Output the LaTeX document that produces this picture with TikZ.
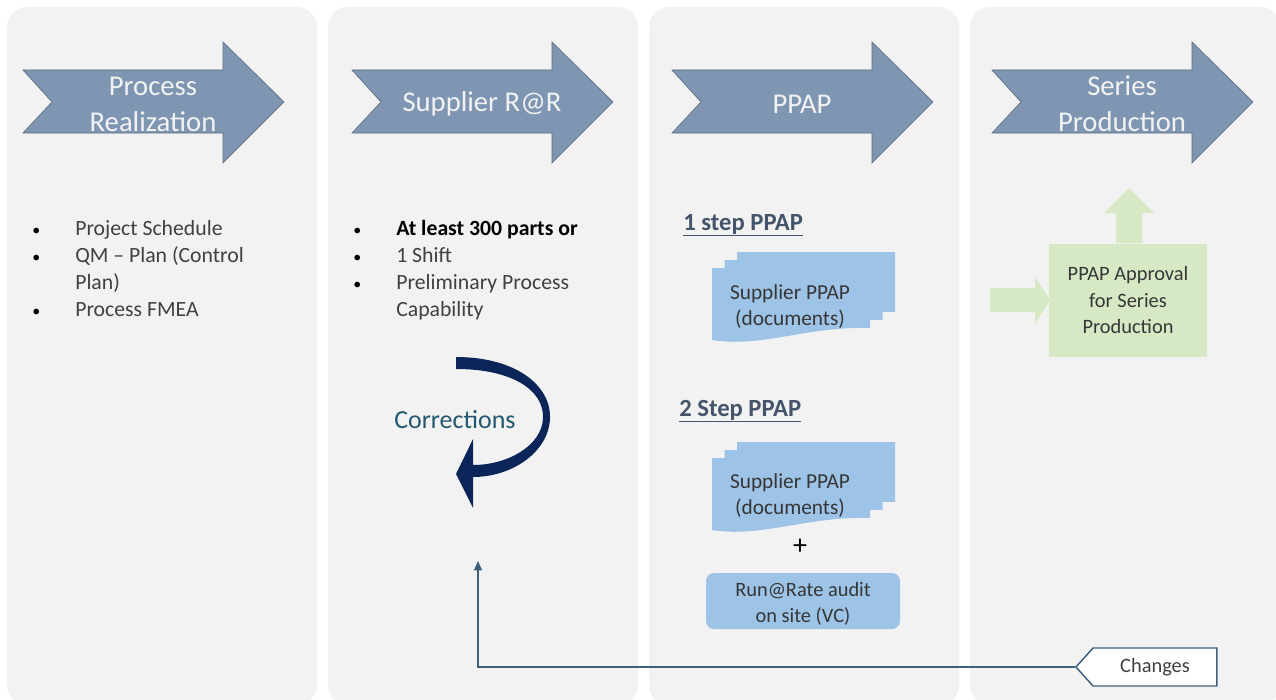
\documentclass[tikz,border=0pt]{standalone}
\usepackage{fontspec}
\setmainfont{Carlito}
\usetikzlibrary{arrows.meta,shapes.symbols}

\definecolor{lanebg}{HTML}{F2F2F2}
\definecolor{stagefill}{HTML}{7F96B2}
\definecolor{stageedge}{HTML}{5E6E82}
\definecolor{docblue}{HTML}{9DC3E6}
\definecolor{okgreen}{HTML}{D7E8C5}
\definecolor{navy}{HTML}{0B2559}
\definecolor{slate}{HTML}{44546A}
\definecolor{linkblue}{HTML}{3E5F7E}
\definecolor{txt}{HTML}{404040}
\definecolor{corrtext}{HTML}{245770}

\newcommand{\itemdot}{\textcolor{black}{\fontsize{12}{12}\selectfont •}}

\tikzset{
	stagelabel/.style={text=lanebg, font=\fontsize{21.5}{27}\selectfont, align=center, inner sep=0pt},
	bullets/.style={anchor=base west, inner sep=0pt, text=txt, font=\fontsize{16.3}{20.25}\selectfont},
	doctext/.style={text=txt!85!black, font=\fontsize{16}{19.5}\selectfont, align=center, inner sep=0pt},
	steptitle/.style={text=slate, font=\bfseries\fontsize{18.5}{22}\selectfont, anchor=base west, inner sep=0pt},
	boxtext/.style={text=txt!85!black, font=\fontsize{15.3}{19.8}\selectfont, align=center},
}

% stack of sheets, top left corner of the front sheet at (#1,#2)
\newcommand{\docsheet}[2]{%
	\foreach \d in {2,1,0}
		\fill[docblue] ({#1+12.5*\d},{#2-8*\d}) -- ++(158,0) -- ++(0,60)
			.. controls ({#1+12.5*\d+95},{#2-8*\d+58}) and ({#1+12.5*\d+50},{#2-8*\d+80})
			.. ({#1+12.5*\d},{#2-8*\d+72}) -- cycle;
}

\begin{document}
\begin{tikzpicture}[x=0.75pt, y=-0.75pt]

		\useasboundingbox (0,0) rectangle (1276,699);
		\fill[white] (0,0) rectangle (1276,699);

		% lanes
		\begin{scope}
			\clip (0,0) rectangle (1276,699);
			\foreach \i in {0,...,3}
				\fill[lanebg, rounded corners=15pt] ({7+321*\i},7) rectangle ({317+321*\i},705);
		\end{scope}

		% stage arrows
		\foreach \x/\name/\lbl in {23/proc/{Process\\Realization}, 352/rar/{Supplier R@R},
				672/ppap/{PPAP}, 992/series/{Series\\Production}}
		{
			\filldraw[fill=stagefill, draw=stageedge, line width=0.5pt]
				(\x,70) -- ++(200,0) -- ++(0,-28) -- ++(61,60) -- ++(-61,61)
				-- ++(0,-30) -- ++(-200,0) -- ++(29,-31) -- cycle;
			\node[stagelabel] (\name) at ({\x+130},104) {\lbl};
		}

		% bullet lists
		\node[bullets] (plan-list) at (32,235) {%
			\begin{tabular}[t]{@{}p{32.25pt}@{}l@{}}
				\itemdot & Project Schedule \\
				\itemdot & QM – Plan (Control \\
				         & Plan) \\
				\itemdot & Process FMEA
			\end{tabular}};
		\node[bullets] (rar-list) at (353,235) {%
			\begin{tabular}[t]{@{}p{32.25pt}@{}l@{}}
				\itemdot & \textcolor{black}{\bfseries At least 300 parts or} \\
				\itemdot & 1 Shift \\
				\itemdot & Preliminary Process \\
				         & Capability
			\end{tabular}};

		% corrections loop
		\fill[navy] (456,357) .. controls (515,357) and (551,385) .. (550,418)
			.. controls (549,452) and (512,477) .. (473,477)
			-- (473,508) -- (456,474) -- (473,439) -- (473,465)
			.. controls (507,465) and (542,446) .. (543,418)
			.. controls (544,390) and (512,369) .. (456,369) -- cycle;
		\node[text=corrtext, font=\fontsize{19.5}{24}\selectfont] (corr) at (455,420) {Corrections};

		% PPAP variants
		\node[steptitle] (one-step) at (683,230) {\underline{1 step PPAP}};
		\docsheet{712}{268}
		\node[doctext] (docs-one) at (790,307) {Supplier PPAP\\(documents)};

		\node[steptitle] (two-step) at (679,416) {\underline{2 Step PPAP}};
		\docsheet{712}{458}
		\node[doctext] (docs-two) at (790,496) {Supplier PPAP\\(documents)};
		\node[text=black, font=\fontsize{21}{24}\selectfont] (plus) at (800,547) {+};
		\node[boxtext, fill=docblue, rounded corners=6pt, inner sep=0pt, minimum width=145.5pt, minimum height=42pt]
			(runrate) at (803,601) {\raisebox{-2.25pt}[\height][\depth]{\begin{tabular}{@{}c@{}}Run@Rate audit\\on site (VC)\end{tabular}}};

		% approval
		\fill[okgreen] (1116,243) -- (1116,213) -- (1104,213) -- (1129,188)
			-- (1154,213) -- (1142,213) -- (1142,243) -- cycle;
		\fill[okgreen] (990,288) -- (1035,288) -- (1035,277) -- (1050,300)
			-- (1035,324) -- (1035,312) -- (990,312) -- cycle;
		\node[boxtext, fill=okgreen, minimum width=118.5pt, minimum height=84.75pt]
			(approval) at (1128,300) {PPAP Approval\\for Series\\Production};

		% changes feed back
		\node[signal, signal to=west, signal pointer angle=96, draw=linkblue, line width=1.1pt,
			fill=white, minimum width=105.75pt, minimum height=28.5pt, inner sep=2pt,
			text=txt, font=\fontsize{15.3}{18}\selectfont] (changes) at (1155,667) {Changes};
		\coordinate (fix-in) at (478,561);
		\draw[linkblue, line width=1.1pt, -{Triangle[length=7pt,width=6pt]}] (changes.west) -| (fix-in);

	\end{tikzpicture}
\end{document}
